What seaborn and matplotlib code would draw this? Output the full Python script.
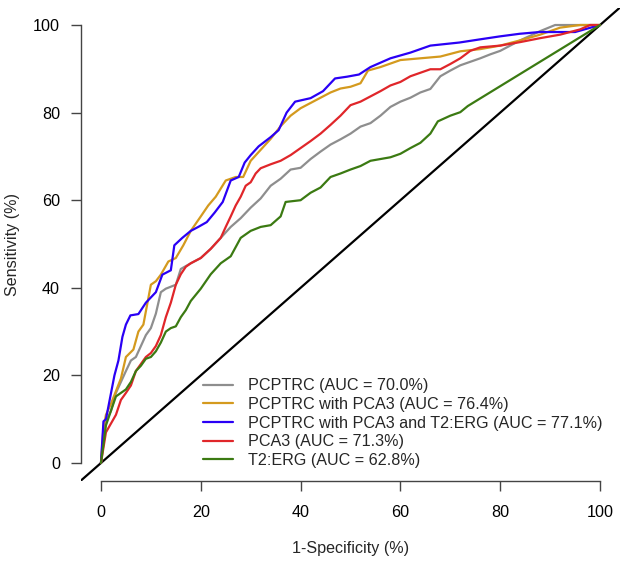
import pandas as pd
import matplotlib
matplotlib.use("Agg")
import matplotlib.pyplot as plt
import seaborn as sns

# ROC curves: 1-specificity (%) and sensitivity (%)
labels = [
    "PCPTRC (AUC = 70.0%)",
    "PCPTRC with PCA3 (AUC = 76.4%)",
    "PCPTRC with PCA3 and T2:ERG (AUC = 77.1%)",
    "PCA3 (AUC = 71.3%)",
    "T2:ERG (AUC = 62.8%)",
]
colors = ["#8e8e8e", "#d49a1e", "#2a00f5", "#e0262a", "#3b7a12"]

pcptrc_x = [0, 0.5, 1, 2, 3, 4, 5, 6, 7, 8, 9, 10, 11, 12, 13, 15, 16, 18, 20, 22, 24,
            26, 28, 30, 32, 34, 36, 38, 40, 42, 44, 46, 48, 50, 52, 54, 56, 58, 60, 62,
            64, 66, 68, 70, 72, 74, 76, 78, 80, 84, 88, 91, 100]
pcptrc_y = [0, 6, 9.5, 11.9, 16, 18.5, 21, 23.4, 24.2, 26.7, 29.2, 30.8, 34.1, 39, 39.8,
            40.7, 44.3, 45.6, 46.8, 48.9, 51.4, 53.9, 55.9, 58.3, 60.4, 63.3, 64.9, 67,
            67.4, 69.4, 71.1, 72.7, 73.9, 75.2, 76.8, 77.6, 79.3, 81.3, 82.5, 83.4, 84.6,
            85.4, 88.3, 89.6, 90.8, 91.6, 92.4, 93.3, 94.1, 96.5, 98.6, 100, 100]

pca3_combo_x = [0, 0.5, 1, 2, 3, 4, 5, 6.5, 7.5, 8.5, 10, 11, 12, 13.5, 15, 16.5, 18, 20,
                21.5, 23, 25, 27, 28.5, 30, 32, 34, 36, 38, 40, 42, 44, 46, 48, 50, 52,
                53.5, 56, 60, 64, 68, 72, 76, 80, 84, 88, 92, 96, 100]
pca3_combo_y = [0, 8, 11, 13.5, 16.4, 19.3, 24.2, 25.9, 30, 31.6, 40.7, 41.5, 43, 46,
                46.8, 49.7, 53, 56.3, 58.8, 60.8, 64.5, 65.3, 65.3, 69, 71.5, 74, 76.9,
                79.3, 81, 82.2, 83.4, 84.6, 85.5, 85.9, 86.7, 89.6, 90.4, 92, 92.4, 92.8,
                94, 94.5, 95.3, 96.5, 97.8, 99.4, 100, 100]

full_x = [0, 0.5, 1, 2.7, 3.5, 4.3, 5, 5.9, 7.5, 9, 11, 12.3, 14, 14.7, 16.3, 18, 19.5,
          21.2, 22.8, 24.4, 26, 27.6, 28.8, 30, 31.6, 34, 35.6, 37.2, 38.9, 42, 44.5,
          46.9, 49.3, 51.7, 54, 58, 62, 66, 71.8, 75.8, 79.9, 83.9, 87.9, 95, 100]
full_y = [0, 9.5, 10, 20, 23.4, 28.8, 31.6, 33.7, 34, 36.6, 39, 43, 44, 49.7, 51.4, 53,
          53.9, 55, 57.2, 59.6, 64.5, 65.3, 68.6, 70.3, 72.3, 74.4, 76, 80, 82.5, 83.3,
          84.9, 87.8, 88.2, 88.7, 90.4, 92.4, 93.7, 95.3, 96, 96.7, 97.4, 98, 98.4,
          98.4, 100]

pca3_x = [0, 1, 2, 3, 4, 5, 6, 7, 8, 9, 10, 11, 12, 13, 14, 15, 16, 17, 18, 20, 22, 24,
          25, 26, 27, 28, 29, 30, 31, 32, 34, 36, 38, 40, 42, 44, 46, 48, 50, 52, 54, 56,
          58, 60, 62, 64, 66, 68, 70, 72, 74, 76, 80, 84, 88, 92, 96, 98, 100]
pca3_y = [0, 7, 9, 11, 14.4, 16, 17.7, 21, 22.6, 24.2, 25.1, 26.7, 29.2, 33.3, 36.6,
          40.7, 43.1, 44.8, 45.6, 46.8, 48.9, 51.4, 53.9, 56.3, 58.8, 60.8, 63.3, 64.1,
          66.1, 67.3, 68.2, 69, 70.3, 71.9, 73.5, 75.2, 77.2, 79.3, 81.7, 82.5, 83.7,
          84.9, 86.2, 87, 88.3, 89.1, 89.9, 89.9, 91.1, 92.4, 94.1, 94.9, 95.3, 96.1,
          97, 97.8, 99, 100, 100]

erg_x = [0, 1, 2, 3, 4, 5, 6, 7, 8, 9, 10, 11, 12, 13, 14, 15, 16, 17, 18, 20, 22, 24,
         26, 28, 30, 32, 34, 36, 37, 40, 42, 44, 46, 48, 50, 52, 54, 56, 58, 60, 62, 64,
         66, 67.5, 70, 72, 73.5, 100]
erg_y = [0, 8.6, 11.9, 15.2, 16, 16.8, 18.5, 21, 22.2, 23.8, 24.2, 25.5, 27.5, 30, 30.8,
         31.2, 33.3, 34.9, 37, 39.8, 43.1, 45.6, 47.2, 51.4, 53, 53.9, 54.3, 56.3, 59.6,
         60, 61.7, 62.9, 65.3, 66.1, 67, 67.8, 69, 69.4, 69.8, 70.6, 71.9, 73.1, 75.2,
         78, 79.3, 80.1, 81.5, 100]

curves = [(pcptrc_x, pcptrc_y), (pca3_combo_x, pca3_combo_y), (full_x, full_y),
          (pca3_x, pca3_y), (erg_x, erg_y)]

frames = []
for lab, (xs, ys) in zip(labels, curves):
    frames.append(pd.DataFrame({"fpr": xs, "sens": ys, "model": lab}))
df = pd.concat(frames, ignore_index=True)

sns.set_style("white")
plt.rcParams["font.family"] = ["Liberation Sans", "DejaVu Sans"]
fs = 11.6

fig = plt.figure(figsize=(6.2, 5.64), dpi=100)
ax = fig.add_axes([81 / 620, 1 - 480.5 / 564, 539 / 620, 473 / 564])

ax.axline((0, 0), (1, 1), color="black", lw=1.6, zorder=1)
sns.lineplot(data=df, x="fpr", y="sens", hue="model", hue_order=labels,
             palette=colors, sort=False, estimator=None, linewidth=1.6, ax=ax)

ax.set_xlim(-4, 104)
ax.set_ylim(-4, 104)
ax.set_xticks(range(0, 101, 20))
ax.set_yticks(range(0, 101, 20))
for side in ["top", "right"]:
    ax.spines[side].set_visible(False)
for side in ["left", "bottom"]:
    ax.spines[side].set_bounds(0, 100)
    ax.spines[side].set_color("#444444")
    ax.spines[side].set_linewidth(1.0)
ax.tick_params(axis="both", direction="out", length=7.2, width=1.0, color="#444444",
               labelsize=fs, labelcolor="black", bottom=True, left=True)
ax.tick_params(axis="x", pad=10.5)
ax.tick_params(axis="y", pad=8)

ax.set_xlabel("1-Specificity (%)", fontsize=fs, va="center")
ax.set_ylabel("Sensitivity (%)", fontsize=fs, va="center")
ax.xaxis.set_label_coords(0.5, (15 - 83.5) / 473)
ax.yaxis.set_label_coords((13 - 81) / 539, 0.5)

handles, labs = ax.get_legend_handles_labels()
ax.legend(handles, labs, loc="lower left", frameon=False,
          bbox_to_anchor=(203 / 620, 1 - 468 / 564), bbox_transform=fig.transFigure,
          borderpad=0, borderaxespad=0, handlelength=1.86, handletextpad=0.93,
          labelspacing=0.23, fontsize=fs)

fig.savefig("out.png", dpi=100)
